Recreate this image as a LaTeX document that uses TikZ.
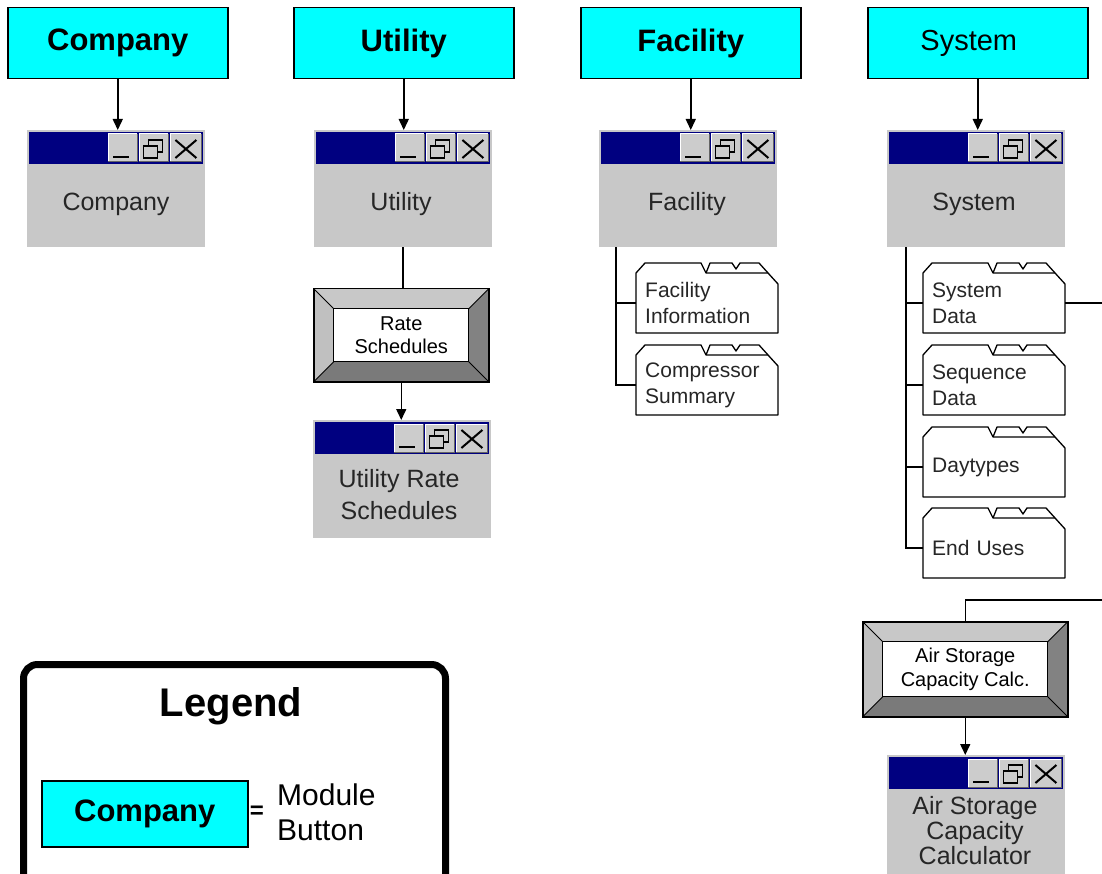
\documentclass[tikz,border=0pt]{standalone}
\usepackage{fontspec}
\setmainfont{Liberation Sans}
\usetikzlibrary{arrows.meta}
\definecolor{cyanbtn}{RGB}{0,255,255}
\definecolor{navy}{RGB}{0,0,128}
\definecolor{wingray}{RGB}{200,200,200}
\definecolor{btngray}{RGB}{204,204,204}
\definecolor{btndark}{RGB}{100,100,100}
\definecolor{bevlight}{RGB}{200,200,200}
\definecolor{bevleft}{RGB}{192,192,192}
\definecolor{bevdark}{RGB}{130,130,130}
\definecolor{bevbottom}{RGB}{122,122,122}
\newcommand\fs[2]{\fontsize{#1}{#2}\selectfont}
\newcommand\wbtn[2]{%
  \fill[btngray] (#1,4) rectangle (#2,32);
  \draw[white, line width=1pt] (#1,32) -- (#1,4) -- (#2,4);
  \draw[btndark, line width=1pt] (#2,4) -- (#2,32) -- (#1,32);
}
\newcommand\wbar[1]{%
\begin{scope}[shift={(#1.north east)}]
  \fill[navy] (-176,2) rectangle (-2,34);
  \wbtn{-97}{-68}\wbtn{-66}{-37}\wbtn{-35}{-4}
  \draw[line width=2.5pt] (-92,27) -- (-76,27);
  \draw[line width=1.2pt] (-57,10) rectangle (-43,22);
  \draw[line width=2.5pt] (-57,10) -- (-43,10);
  \filldraw[fill=btngray, line width=1.2pt] (-62,16) rectangle (-48,28);
  \draw[line width=2.5pt] (-62,16) -- (-48,16);
  \draw[line width=2pt] (-30,10) -- (-9,28) (-30,28) -- (-9,10);
\end{scope}}
\newcommand\folderline[1]{%
\begin{scope}[shift={(#1.north west)}]
  \draw[line width=1.3pt, line join=round] (0,60) -- (0,0) -- (9,-10) -- (65,-10) -- (70,0) -- (132,0) -- (142,11) -- (142,60) -- cycle;
  \draw[line width=1.3pt, line join=round] (70,0) -- (74,-10) -- (96,-10) -- (100,-4) -- (104,-10) -- (123,-10) -- (132,0);
\end{scope}}
\newcommand\bevelpic{%
  \coordinate (bvA) at (path picture bounding box.north west);
  \coordinate (bvB) at (path picture bounding box.north east);
  \coordinate (bvC) at (path picture bounding box.south east);
  \coordinate (bvD) at (path picture bounding box.south west);
  \coordinate (bvAi) at ([shift={(20pt,-20pt)}]bvA);
  \coordinate (bvBi) at ([shift={(-20pt,-20pt)}]bvB);
  \coordinate (bvCi) at ([shift={(-20pt,20pt)}]bvC);
  \coordinate (bvDi) at ([shift={(20pt,20pt)}]bvD);
  \fill[bevlight] (bvA) -- (bvB) -- (bvBi) -- (bvAi) -- cycle;
  \fill[bevleft] (bvA) -- (bvAi) -- (bvDi) -- (bvD) -- cycle;
  \fill[bevdark] (bvB) -- (bvC) -- (bvCi) -- (bvBi) -- cycle;
  \fill[bevbottom] (bvD) -- (bvDi) -- (bvCi) -- (bvC) -- cycle;
  \draw[fill=white, line width=1.3pt] (bvAi) rectangle (bvCi);
  \draw[line width=0.9pt] (bvA) -- (bvAi) (bvB) -- (bvBi) (bvC) -- (bvCi) (bvD) -- (bvDi);
}
\tikzset{
  modbtn/.style={draw=black, line width=1.5pt, fill=cyanbtn, minimum width=220pt, minimum height=71pt,
    inner sep=0pt, font=\fs{31}{36}\bfseries, anchor=north west},
  win/.style={fill=wingray, minimum width=178pt, inner sep=0pt, anchor=north west},
  wtext/.style={font=\fs{25}{32}, align=center, text=black!85},
  arr/.style={line width=1.5pt, -{Triangle[length=11pt,width=10pt]}},
  conn/.style={line width=1.5pt},
  bevel/.style={draw=black, line width=1.5pt, inner sep=0pt, anchor=north west, align=center,
    font=\fs{20}{23.5}, path picture={\bevelpic}},
  folder/.style={minimum width=142pt, minimum height=60pt, inner xsep=9pt, inner ysep=0pt,
    text width=124pt, align=left, anchor=north west, font=\fs{21}{26}, text=black!85},
}
\begin{document}
\begin{tikzpicture}[x=1pt, y=-1pt]
\useasboundingbox (0,0) rectangle (1102,874);
% module buttons
\node[modbtn] (bcomp) at (7,7) {Company};
\node[modbtn] (butil) at (293,7) {Utility};
\node[modbtn] (bfac) at (580,7) {Facility};
\node[modbtn, font=\fs{29}{34}] (bsys) at (867,7) {System\hspace*{18pt}};
% windows
\node[win, minimum height=117pt] (cwin) at (27,130) {};
\node[win, minimum height=117pt] (uwin) at (314,130) {};
\node[win, minimum height=117pt] (fwin) at (599,130) {};
\node[win, minimum height=117pt] (swin) at (887,130) {};
\node[win, minimum height=118pt] (urswin) at (313,420) {};
\node[win, minimum height=125pt] (aswin) at (887,755) {};
\wbar{cwin}\wbar{uwin}\wbar{fwin}\wbar{swin}\wbar{urswin}\wbar{aswin}
\node[wtext] (cwin-t) at (116,204) {Company};
\node[wtext] (uwin-t) at (401,204) {Utility};
\node[wtext] (fwin-t) at (687,204) {Facility};
\node[wtext] (swin-t) at (974,204) {System};
\node[wtext] (urswin-t) at (399,495) {Utility Rate\\Schedules};
\node[wtext, font=\fs{25}{25}] (aswin-t) at (975,831) {Air Storage\\Capacity\\Calculator};
% arrows from buttons
\draw[arr] (bcomp.south) -- (bcomp.south |- cwin.north);
\draw[arr] (butil.south) -- (butil.south |- uwin.north);
\draw[arr] (bfac.south) -- (bfac.south |- fwin.north);
\draw[arr] (bsys.south) -- (bsys.south |- swin.north);
% bevel buttons
\node[bevel, minimum width=175pt, minimum height=93pt] (rate) at (313,288) {Rate\\Schedules};
\node[bevel, minimum width=205pt, minimum height=95pt] (air) at (862,621) {Air Storage\\Capacity Calc.};
\draw[conn] (uwin.south) -- (uwin.south |- rate.north);
\draw[arr] (rate.south) -- (rate.south |- urswin.north);
\draw[arr] (air.south) -- (air.south |- aswin.north);
% folders
\node[folder] (ffi) at (636,273) {Facility\\Information};
\node[folder] (fcs) at (636,355) {Compressor\\Summary};
\node[folder] (ssd) at (923,273) {System\\Data};
\node[folder] (ssq) at (923,355) {Sequence\\Data};
\node[folder] (sdt) at (923,437) {Daytypes};
\node[folder] (seu) at (923,518) {End Uses};
\folderline{ffi}\folderline{fcs}\folderline{ssd}\folderline{ssq}\folderline{sdt}\folderline{seu}
\coordinate (fv) at ([xshift=17pt]fwin.south west);
\draw[conn] (fv) |- (fcs.west);
\draw[conn] (fv) |- (ffi.west);
\coordinate (sv) at ([xshift=19pt]swin.south west);
\draw[conn] (sv) |- (seu.west);
\draw[conn] (sv) |- (sdt.west);
\draw[conn] (sv) |- (ssq.west);
\draw[conn] (sv) |- (ssd.west);
\coordinate (edge) at (1102,0);
\draw[conn] (ssd.east) -- (ssd.east -| edge);
\coordinate (offb) at (1102,600);
\draw[conn] (offb) -| (air.north);
% legend
\node[draw, line width=7pt, rounded corners=14pt, minimum width=422pt, minimum height=260pt,
  anchor=north west, inner sep=0pt] (legend) at (20,661) {};
\node[font=\fs{40}{48}\bfseries] (legend-t) at (231,706) {Legend};
\node[modbtn, minimum width=206pt, minimum height=66pt] (lbtn) at (41,780) {Company};
\node[font=\fs{24}{28}\bfseries] (leq) at (257,812) {=};
\node[font=\fs{30}{35}, align=left, anchor=west, inner sep=0pt] (ldesc) at (277,812) {Module\\Button};
\end{tikzpicture}
\end{document}
